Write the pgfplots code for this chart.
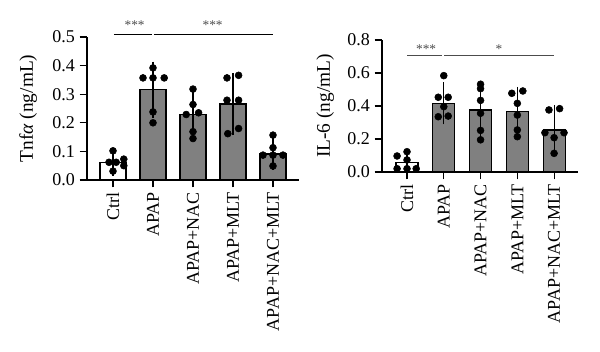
\documentclass[border=0pt]{standalone}
\usepackage{pgfplots}
\pgfplotsset{compat=1.18}
\usepackage{fontspec}
\setmainfont{Liberation Serif}
\begin{document}
\begin{tikzpicture}
\path[use as bounding box] (0,0) rectangle (450pt,-264pt);
\pgfplotsset{
  myax/.style={
    scale only axis,
    axis lines=left,
    axis line style={-, line width=0.9pt, black},
    tick align=outside,
    major tick length=5.5pt,
    tick style={line width=0.9pt, black},
    xtick={0,1,2,3,4},
    xticklabels={Ctrl,APAP,APAP+NAC,APAP+MLT,APAP+NAC+MLT},
    x tick label style={rotate=90, anchor=east, font=\fontsize{13.5}{15}\selectfont},
    y tick label style={font=\fontsize{13.5}{15}\selectfont},
    /pgf/number format/assume math mode=true,
    /pgf/number format/fixed,
    /pgf/number format/fixed zerofill,
    /pgf/number format/precision=1,
    ymin=0,
    clip=false,
  },
  mybar/.style={ybar, bar shift=0pt, draw=black, line width=0.9pt,
    error bars/.cd, y dir=both, y explicit,
    error bar style={line width=0.9pt, black},
    error mark options={line width=0.9pt, black, mark size=4.5pt},
    /pgfplots/.cd},
  mydots/.style={only marks, mark=*, mark size=2.6pt, black, mark options={fill=black, draw=black}},
}
% ---------------- Left: Tnf alpha
\begin{axis}[myax,
  at={(65.25pt,-135pt)}, anchor=south west,
  width=159pt, height=107.25pt,
  xmin=-0.65, xmax=4.65, ymax=0.5,
  ytick={0,0.1,0.2,0.3,0.4,0.5},
  ylabel={Tnf\textit{α} (ng/mL)},
  ylabel style={at={(axis description cs:-0.278,0.5)}, anchor=center, font=\fontsize{14.5}{16}\selectfont},
]
\addplot[mybar, fill=white, bar width=19.5pt] coordinates {(0,0.060) +- (0,0.025)};
\addplot[mybar, fill=gray, bar width=19.5pt] coordinates {
  (1,0.316) +- (0,0.077)
  (2,0.229) +- (0,0.061)
  (3,0.266) +- (0,0.088)
  (4,0.091) +- (0,0.035)
};
\addplot[mydots] coordinates {
  (0,0.102) (-0.10,0.062) (0.08,0.062) (0.27,0.073) (0.27,0.050) (0,0.031)
  (1,0.392) (0.75,0.357) (1,0.357) (1.28,0.357) (1,0.238) (1,0.200)
  (2,0.318) (2,0.264) (1.83,0.229) (2.14,0.235) (2,0.169) (2,0.145)
  (2.85,0.357) (3.14,0.366) (2.85,0.279) (3.14,0.279) (3.14,0.180) (2.87,0.162)
  (4,0.157) (4,0.113) (3.75,0.087) (4,0.087) (4.25,0.087) (4,0.049)
};
\draw[line width=0.9pt, black] (axis cs:0.02,0.509) -- (axis cs:0.97,0.509);
\draw[line width=0.9pt, black] (axis cs:1.02,0.509) -- (axis cs:3.99,0.509);
\node[font=\fontsize{10}{10}\selectfont, text=black!70, inner sep=0pt] at (axis cs:0.54,0.540) {***};
\node[font=\fontsize{10}{10}\selectfont, text=black!70, inner sep=0pt] at (axis cs:2.49,0.540) {***};
\end{axis}
% ---------------- Right: IL-6
\begin{axis}[myax,
  at={(286.5pt,-129pt)}, anchor=south west,
  width=147pt, height=99pt,
  xmin=-0.68, xmax=4.65, ymax=0.8,
  ytick={0,0.2,0.4,0.6,0.8},
  ylabel={IL-6 (ng/mL)},
  ylabel style={at={(axis description cs:-0.29,0.5)}, anchor=center, font=\fontsize{14.5}{16}\selectfont},
]
\addplot[mybar, fill=white, bar width=16.5pt] coordinates {(0,0.056) +- (0,0.047)};
\addplot[mybar, fill=gray, bar width=16.5pt] coordinates {
  (1,0.416) +- (0,0.091)
  (2,0.376) +- (0,0.131)
  (3,0.366) +- (0,0.113)
  (4,0.255) +- (0,0.115)
};
\addplot[mydots] coordinates {
  (-0.27,0.097) (0,0.123) (0,0.073) (-0.27,0.020) (0,0.020) (0.25,0.020)
  (1,0.584) (0.85,0.453) (1.12,0.453) (1,0.396) (0.85,0.335) (1.12,0.339)
  (2,0.532) (2,0.505) (2,0.434) (2,0.356) (2,0.252) (2,0.195)
  (2.85,0.477) (3.15,0.491) (3,0.416) (3,0.345) (3,0.255) (3,0.214)
  (3.86,0.376) (4.15,0.384) (3.75,0.238) (4.27,0.238) (4,0.208) (4,0.113)
};
\draw[line width=0.9pt, black!70] (axis cs:0,0.705) -- (axis cs:0.95,0.705);
\draw[line width=0.9pt, black!70] (axis cs:1.01,0.705) -- (axis cs:4.0,0.705);
\node[font=\fontsize{10}{10}\selectfont, text=black!70, inner sep=0pt] at (axis cs:0.52,0.745) {***};
\node[font=\fontsize{10}{10}\selectfont, text=black!70, inner sep=0pt] at (axis cs:2.5,0.745) {*};
\end{axis}
\end{tikzpicture}
\end{document}
